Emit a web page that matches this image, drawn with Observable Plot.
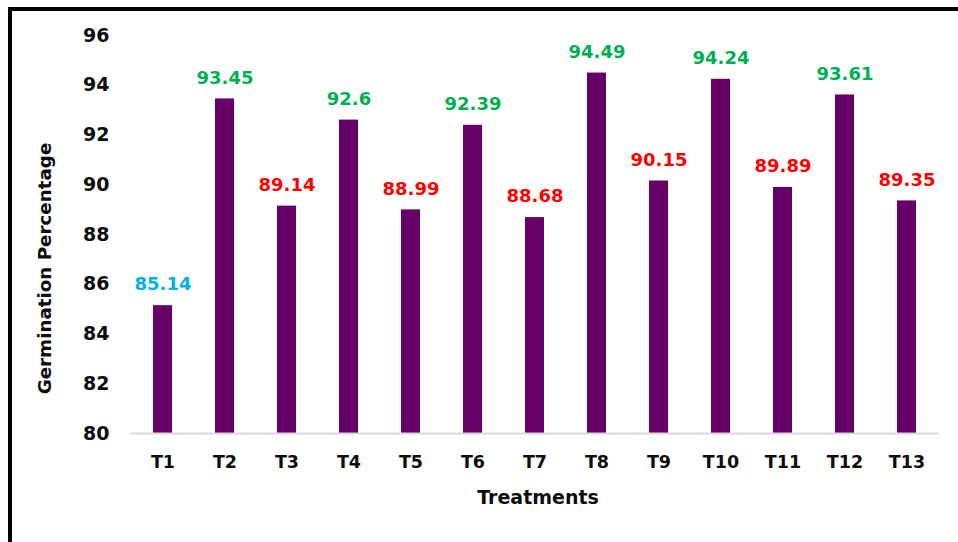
<!DOCTYPE html>
<html>
<head>
<meta charset="utf-8">
<script src="https://cdn.jsdelivr.net/npm/d3@7"></script>
<script src="https://cdn.jsdelivr.net/npm/@observablehq/plot@0.6"></script>
<style>
  html, body { margin: 0; padding: 0; background: #fff; }
  #wrap { position: relative; width: 958px; height: 542px; overflow: hidden; }
  #frame { position: absolute; left: 8px; top: 7px; width: 960px; height: 560px;
           border-left: 4px solid #000; border-top: 4px solid #000; pointer-events: none; }
  #chart { position: absolute; left: 0; top: 0; }
</style>
</head>
<body>
<div id="wrap"><div id="chart"></div><div id="frame"></div></div>
<script>
const treatments = ["T1","T2","T3","T4","T5","T6","T7","T8","T9","T10","T11","T12","T13"];
const germination = [85.14, 93.45, 89.14, 92.6, 88.99, 92.39, 88.68, 94.49, 90.15, 94.24, 89.89, 93.61, 89.35];
const labelGroup = ["low","high","mid","high","mid","high","mid","high","mid","high","mid","high","mid"];
const yTicks = [80, 82, 84, 86, 88, 90, 92, 94, 96];

const data = treatments.map((t, i) => ({treatment: t, value: germination[i], group: labelGroup[i]}));

const chart = Plot.plot({
  width: 958,
  height: 542,
  marginLeft: 130,
  marginRight: 19,
  marginTop: 35,
  marginBottom: 109,
  style: {fontFamily: '"DejaVu Sans", sans-serif', background: "transparent"},
  x: {domain: treatments, paddingInner: 0.69, paddingOuter: 0.345, label: null},
  y: {domain: [80, 96], label: null},
  color: {domain: ["low","mid","high"], range: ["#00b0f0","#ff0000","#00b050"]},
  marks: [
    Plot.barY(data, {x: "treatment", y1: 80, y2: "value", fill: "#660066"}),
    Plot.ruleY([80], {stroke: "#d9d9d9", strokeWidth: 2}),
    Plot.text(data, {x: "treatment", y: "value", text: d => String(d.value), dy: -21,
      fill: d => d.group, fontSize: 18, fontWeight: "bold", lineAnchor: "middle"}),
    Plot.axisY({ticks: yTicks, tickSize: 0, tickPadding: 21, fontSize: 19, fontWeight: "bold",
      fill: "#0d0d0d", label: null}),
    Plot.axisX({tickSize: 0, tickPadding: 22, fontSize: 17.5, fontWeight: "bold", fill: "#0d0d0d", label: null}),
    Plot.text(["Germination Percentage"], {frameAnchor: "left", dx: -85, dy: 34, rotate: -90,
      textAnchor: "middle", fontSize: 18.3, fontWeight: "bold", fill: "#0d0d0d", lineAnchor: "middle"}),
    Plot.text(["Treatments"], {frameAnchor: "bottom", dy: 64, dx: 3,
      textAnchor: "middle", fontSize: 19, fontWeight: "bold", fill: "#0d0d0d", lineAnchor: "middle"})
  ]
});
document.getElementById("chart").appendChild(chart);
</script>
</body>
</html>
